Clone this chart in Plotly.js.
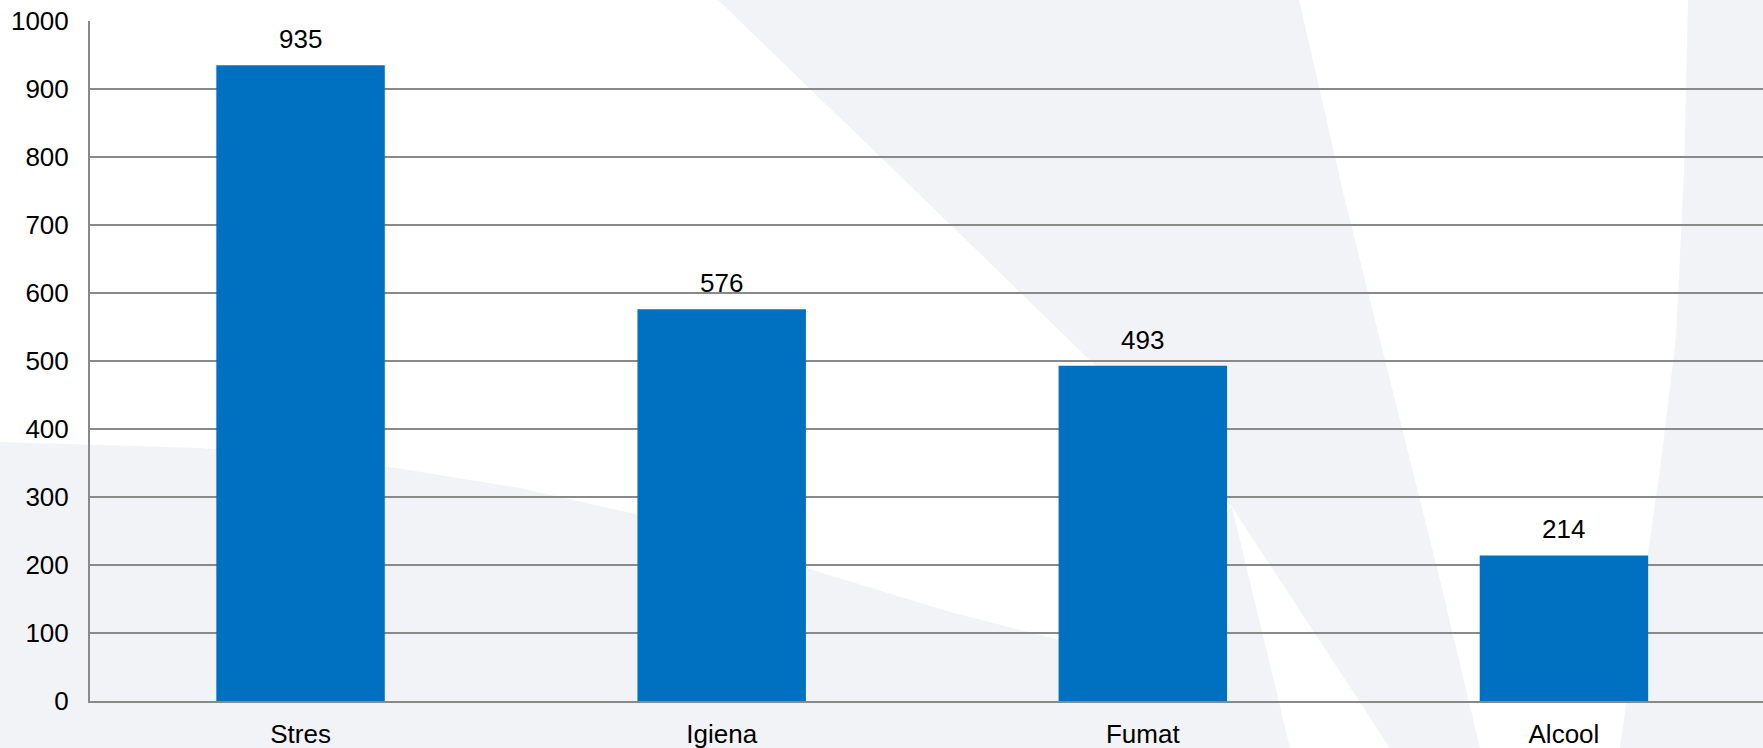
<!DOCTYPE html>
<html>
<head>
<meta charset="utf-8">
<script src="https://cdn.plot.ly/plotly-3.0.1.min.js"></script>
<style>html,body{margin:0;padding:0;background:#fff;}#chart{width:1763px;height:748px;}</style>
</head>
<body>
<div id="chart"></div>
<script>
const categories = ["Stres", "Igiena", "Fumat", "Alcool"];
const values = [935, 576, 493, 214];
const yTickValues = [0, 100, 200, 300, 400, 500, 600, 700, 800, 900, 1000];

const W = 1763, H = 748;
const mL = 90, mR = 0, mT = 21, mB = 47;
const pw = W - mL - mR, ph = H - mT - mB;
// decorative watermark polygons in pixel coords, converted to paper coords
function toPaperPath(pts) {
  return pts.map((p, i) => (i ? 'L' : 'M') + ((p[0] - mL) / pw).toFixed(4) + ',' + ((H - mB - p[1]) / ph).toFixed(4)).join(' ') + ' Z';
}
const wmColor = '#F2F3F7';
const wmLowerLeft = [[0,442],[200,448],[390,467],[520,488],[631,513],[803,567],[950,612],[1060,640],[1150,590],[1232,507],[1290,748],[0,748]];
const wmBand = [[718,0],[925,200],[1131,400],[1232,507],[1390,748],[1480,748],[1440,580],[1395,400],[1345,200],[1299,0]];
const wmRight = [[1688,0],[1763,0],[1763,748],[1620,748],[1631,670],[1642,595],[1660,470],[1676,337],[1684,170]];

const shapes = [wmLowerLeft, wmBand, wmRight].map(pts => ({
  type: 'path', xref: 'paper', yref: 'paper', path: toPaperPath(pts),
  fillcolor: wmColor, line: {width: 0}, layer: 'below'
}));

const annotations = categories.map((c, i) => ({
  x: c, y: values[i], xref: 'x', yref: 'y', text: String(values[i]),
  showarrow: false, yanchor: 'middle', yshift: 26,
  font: {family: 'Arial, "Liberation Sans", sans-serif', size: 26, color: '#000'}
}));

const trace = {
  type: 'bar', x: categories, y: values, width: 0.4,
  marker: {color: '#0070C0'}, hoverinfo: 'x+y'
};

const layout = {
  width: W, height: H,
  margin: {l: mL, r: mR, t: mT, b: mB, pad: 0},
  paper_bgcolor: '#FFFFFF', plot_bgcolor: 'rgba(0,0,0,0)',
  showlegend: false,
  font: {family: 'Arial, "Liberation Sans", sans-serif', size: 26, color: '#000'},
  xaxis: {
    type: 'category', range: [-0.5, 3.4727],
    showgrid: false, showline: true, linecolor: '#898989', linewidth: 2,
    ticks: '', ticklabelstandoff: 9, tickfont: {size: 26, color: '#000'}, fixedrange: true
  },
  yaxis: {
    range: [0, 1000], tickvals: yTickValues, ticktext: yTickValues.map(String),
    showgrid: true, gridcolor: '#898989', gridwidth: 2,
    showline: true, linecolor: '#898989', linewidth: 2, zeroline: false,
    ticks: '', ticklabelstandoff: 14, tickfont: {size: 26, color: '#000'}, fixedrange: true
  },
  shapes: shapes,
  annotations: annotations
};

Plotly.newPlot('chart', [trace], layout, {displayModeBar: false, staticPlot: true});
</script>
</body>
</html>
